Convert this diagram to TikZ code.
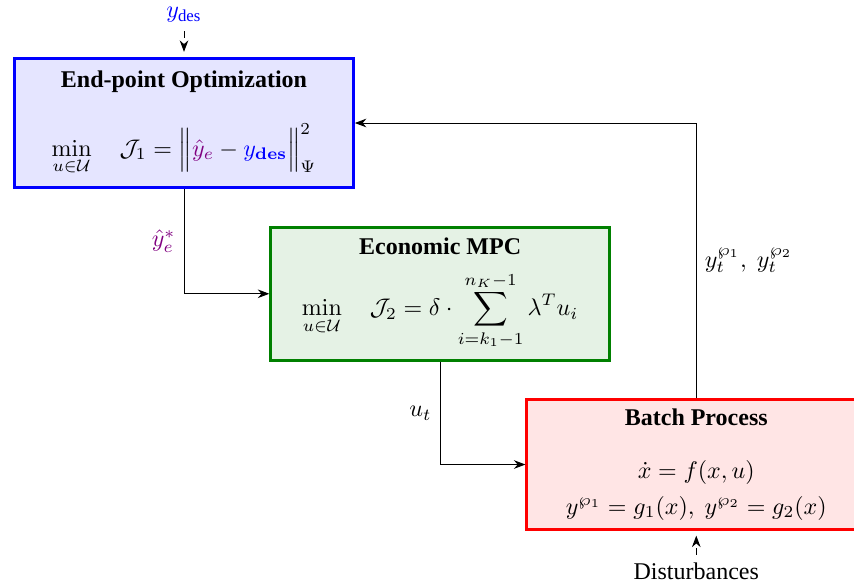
\documentclass[tikz,border=0pt]{standalone}
\usepackage{amsmath}
\usepackage[no-math]{fontspec}
\setmainfont{Liberation Serif}
\usetikzlibrary{arrows.meta}

\begin{document}
\begin{tikzpicture}[>=Stealth,
  blk/.style={draw,line width=1.2pt,minimum width=4.96cm,minimum height=1.9cm,align=center,inner sep=2pt}]
\useasboundingbox (-2.694,1.801) rectangle (9.809,-6.749);
% blocks
\node[blk,draw=blue,fill=blue!10] (opt) at (0,0) {\textbf{End-point Optimization}\\[12pt] $\min\limits_{u\in\mathcal{U}}\quad \mathcal{J}_1 =\Big\|\textcolor{violet}{\hat{y}_e} - \textcolor{blue}{y_{\mathbf{des}}}\Big\|_{\Psi}^2$};
\node[blk,draw=green!50!black,fill=green!50!black!10,minimum height=1.95cm] (mpc) at (3.75,-2.5) {\textbf{Economic MPC}\\[6pt] $\min\limits_{u\in\mathcal{U}}\quad \mathcal{J}_2 = \delta\cdot\displaystyle\sum_{i=k_1-1}^{n_K-1}\lambda^T u_i$};
\node[blk,draw=red,fill=red!10] (proc) at (7.5,-5) {\textbf{Batch Process}\\[10pt] $\dot{x} = f(x,u)$\\[3pt] $y^{\wp_1} = g_1(x),\ y^{\wp_2} = g_2(x)$};
% inputs
\node[blue] (ydes) at (0,1.58) {$y_{\text{des}}$};
\node (dist) at (7.5,-6.57) {Disturbances};
\draw[->,dashed,shorten >=2pt] (ydes) -- (opt);
\draw[->,dashed,shorten >=2pt] (dist) -- (proc);
% signals
\draw[->] (opt.south) |- node[pos=0.25,left,violet] {$\hat{y}_e^*$} (mpc.west);
\draw[->] (mpc.south) |- node[pos=0.25,left] {$u_t$} (proc.west);
\draw[->] (proc.north) |- node[pos=0.25,right] {$y_t^{\wp_1},\ y_t^{\wp_2}$} (opt.east);
\end{tikzpicture}
\end{document}
